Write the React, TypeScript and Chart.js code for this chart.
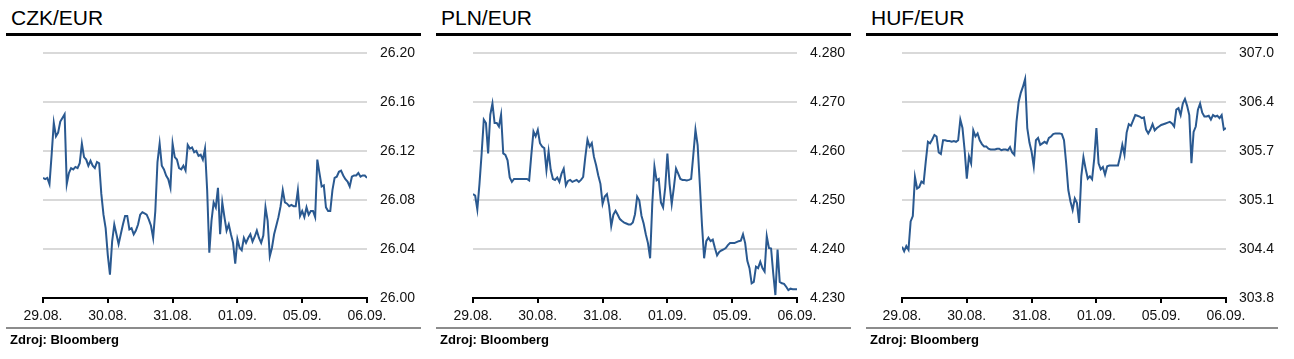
import { useEffect, useRef } from 'react';
import { Chart, registerables } from 'chart.js';

Chart.register(...registerables);

const dayLabels = ['29.08.', '30.08.', '31.08.', '01.09.', '05.09.', '06.09.'];
const samplesPerDay = 30;

const czkValues = [
  26.098, 26.097, 26.098, 26.093, 26.117, 26.143, 26.132, 26.135, 26.144, 26.147,
  26.150, 26.093, 26.102, 26.106, 26.105, 26.107, 26.106, 26.110, 26.126, 26.115,
  26.113, 26.108, 26.112, 26.108, 26.106, 26.111, 26.110, 26.085, 26.068, 26.057,
  26.035, 26.019, 26.046, 26.060, 26.052, 26.044, 26.052, 26.060, 26.067, 26.067,
  26.056, 26.057, 26.052, 26.055, 26.060, 26.068, 26.070, 26.069, 26.068, 26.064,
  26.059, 26.049, 26.071, 26.111, 26.126, 26.108, 26.105, 26.100, 26.097, 26.090,
  26.126, 26.115, 26.113, 26.106, 26.105, 26.108, 26.104, 26.125, 26.122, 26.123,
  26.119, 26.120, 26.116, 26.117, 26.113, 26.122, 26.088, 26.037, 26.063, 26.078,
  26.074, 26.090, 26.052, 26.078, 26.066, 26.055, 26.060, 26.052, 26.045, 26.028,
  26.048, 26.041, 26.039, 26.049, 26.045, 26.049, 26.052, 26.046, 26.050, 26.055,
  26.049, 26.045, 26.051, 26.074, 26.063, 26.034, 26.041, 26.052, 26.059, 26.066,
  26.075, 26.088, 26.078, 26.077, 26.075, 26.076, 26.075, 26.075, 26.088, 26.067,
  26.071, 26.066, 26.074, 26.068, 26.071, 26.071, 26.066, 26.113, 26.102, 26.091,
  26.092, 26.074, 26.071, 26.071, 26.088, 26.098, 26.099, 26.103, 26.104, 26.100,
  26.097, 26.095, 26.091, 26.099, 26.100, 26.100, 26.102, 26.099, 26.100, 26.100,
  26.098,
];

const plnValues = [
  4.2512, 4.2509, 4.2481, 4.2533, 4.2595, 4.2664, 4.2657, 4.2595, 4.2674, 4.2697,
  4.2657, 4.2657, 4.2650, 4.2674, 4.2595, 4.2592, 4.2581, 4.2546, 4.2537, 4.2543,
  4.2543, 4.2543, 4.2543, 4.2543, 4.2543, 4.2543, 4.2540, 4.2592, 4.2640, 4.2630,
  4.2643, 4.2616, 4.2609, 4.2606, 4.2561, 4.2599, 4.2561, 4.2543, 4.2541, 4.2546,
  4.2537, 4.2554, 4.2564, 4.2530, 4.2539, 4.2541, 4.2537, 4.2539, 4.2541, 4.2537,
  4.2541, 4.2547, 4.2588, 4.2623, 4.2609, 4.2616, 4.2588, 4.2571, 4.2550, 4.2533,
  4.2492, 4.2507, 4.2512, 4.2488, 4.2447, 4.2470, 4.2478, 4.2470, 4.2461, 4.2457,
  4.2454, 4.2452, 4.2450, 4.2450, 4.2454, 4.2471, 4.2507, 4.2499, 4.2468, 4.2452,
  4.2430, 4.2412, 4.2381, 4.2492, 4.2568, 4.2540, 4.2543, 4.2495, 4.2485, 4.2526,
  4.2595, 4.2533, 4.2492, 4.2526, 4.2564, 4.2554, 4.2543, 4.2541, 4.2541, 4.2540,
  4.2541, 4.2543, 4.2592, 4.2643, 4.2612, 4.2533, 4.2450, 4.2381, 4.2416, 4.2423,
  4.2416, 4.2419, 4.2402, 4.2387, 4.2394, 4.2397, 4.2399, 4.2402, 4.2408, 4.2412,
  4.2412, 4.2412, 4.2414, 4.2416, 4.2417, 4.2430, 4.2412, 4.2376, 4.2361, 4.2330,
  4.2333, 4.2364, 4.2361, 4.2374, 4.2361, 4.2354, 4.2426, 4.2402, 4.2401, 4.2350,
  4.2306, 4.2399, 4.2333, 4.2330, 4.2329, 4.2323, 4.2316, 4.2319, 4.2318, 4.2318,
  4.2318,
];

const hufValues = [
  304.47, 304.41, 304.48, 304.43, 304.80, 304.87, 305.38, 305.23, 305.25, 305.32,
  305.30, 305.58, 305.84, 305.82, 305.87, 305.93, 305.91, 305.70, 305.68, 305.86,
  305.86, 305.85, 305.85, 305.84, 305.85, 305.84, 305.86, 306.13, 306.02, 305.73,
  305.36, 305.65, 305.56, 305.99, 305.91, 305.95, 305.86, 305.81, 305.78, 305.78,
  305.75, 305.74, 305.74, 305.74, 305.75, 305.75, 305.73, 305.74, 305.74, 305.73,
  305.77, 305.70, 305.67, 306.10, 306.36, 306.48, 306.56, 306.66, 306.02, 305.83,
  305.71, 305.52, 305.86, 305.89, 305.80, 305.82, 305.84, 305.82, 305.89, 305.91,
  305.94, 305.95, 305.95, 305.95, 305.94, 305.86, 305.56, 305.21, 305.06, 304.95,
  305.10, 305.04, 304.78, 305.39, 305.64, 305.49, 305.36, 305.39, 305.35, 305.62,
  306.02, 305.56, 305.48, 305.51, 305.41, 305.52, 305.53, 305.53, 305.53, 305.53,
  305.53, 305.65, 305.80, 305.67, 305.96, 306.07, 306.05, 306.12, 306.19, 306.18,
  306.17, 306.15, 306.16, 306.00, 305.95, 306.00, 306.07, 305.99, 306.02, 306.04,
  306.06, 306.07, 306.08, 306.09, 306.10, 306.08, 306.04, 306.26, 306.28, 306.19,
  306.34, 306.40, 306.31, 306.19, 305.56, 305.97, 306.04, 306.26, 306.34, 306.22,
  306.17, 306.17, 306.18, 306.13, 306.19, 306.17, 306.18, 306.15, 306.19, 306.00,
  306.02,
];

const czkTicks = [26.0, 26.04, 26.08, 26.12, 26.16, 26.2];
const czkTickLabels = ['26.00', '26.04', '26.08', '26.12', '26.16', '26.20'];
const plnTicks = [4.23, 4.24, 4.25, 4.26, 4.27, 4.28];
const plnTickLabels = ['4.230', '4.240', '4.250', '4.260', '4.270', '4.280'];
const hufTicks = [303.8, 304.44, 305.08, 305.72, 306.36, 307.0];
const hufTickLabels = ['303.8', '304.4', '305.1', '305.7', '306.4', '307.0'];

const FONT = "'Liberation Sans', Arial, Helvetica, sans-serif";
const CANVAS_TOP = 40;
const CANVAS_H = 290;

type PanelProps = {
  left: number;
  width: number;
  plotLeft: number;
  plotRight: number;
  title: string;
  values: number[];
  ticks: number[];
  tickLabels: string[];
};

function Panel({ left, width, plotLeft, plotRight, title, values, ticks, tickLabels }: PanelProps) {
  const ref = useRef<HTMLCanvasElement | null>(null);

  useEffect(() => {
    if (!ref.current) return;
    const tickFont = { family: FONT, size: 14 };
    const yWidth = width - plotRight;
    const chart = new Chart(ref.current, {
      type: 'line',
      data: {
        datasets: [
          {
            data: values.map((v, i) => ({ x: i / samplesPerDay, y: v })),
            borderColor: '#2a5990',
            borderWidth: 2,
            pointRadius: 0,
            tension: 0,
            fill: false,
          },
        ],
      },
      options: {
        animation: false,
        responsive: false,
        maintainAspectRatio: false,
        events: [],
        layout: { padding: { left: plotLeft, top: 13, right: 0, bottom: 0 } },
        plugins: {
          legend: { display: false },
          tooltip: { enabled: false },
          title: { display: false },
        },
        scales: {
          x: {
            type: 'linear',
            position: 'bottom',
            min: 0,
            max: dayLabels.length - 1,
            afterBuildTicks: (s: any) => {
              s.ticks = dayLabels.map((_, i) => ({ value: i }));
            },
            afterFit: (s: any) => {
              s.height = 32;
              s.paddingLeft = 0;
              s.paddingRight = 0;
            },
            ticks: {
              callback: (v: any) => dayLabels[Math.round(Number(v))],
              font: tickFont,
              color: '#111',
              padding: 5,
              maxRotation: 0,
              autoSkip: false,
            },
            grid: {
              drawOnChartArea: false,
              drawTicks: true,
              tickLength: 5,
              color: '#000',
              lineWidth: 2,
            },
            border: { display: true, color: '#000', width: 2 },
          },
          y: {
            type: 'linear',
            position: 'right',
            min: ticks[0],
            max: ticks[ticks.length - 1],
            afterBuildTicks: (s: any) => {
              s.ticks = ticks.map((v) => ({ value: v }));
            },
            afterFit: (s: any) => {
              s.width = yWidth;
              s.paddingTop = 0;
              s.paddingBottom = 0;
            },
            ticks: {
              callback: (_v: any, i: number) => tickLabels[i],
              font: tickFont,
              color: '#111',
              padding: 13,
              crossAlign: 'near',
            },
            grid: { drawTicks: false, color: '#d9d9d9', lineWidth: 2 },
            border: { display: false },
          },
        },
      } as any,
    });
    return () => chart.destroy();
  }, [left, width, plotLeft, plotRight, values, ticks, tickLabels]);

  return (
    <div style={{ position: 'absolute', left, top: 0, width, height: 359 }}>
      <div
        style={{
          position: 'absolute',
          left: 5,
          top: 6,
          fontFamily: FONT,
          fontSize: 21,
          lineHeight: '24px',
          color: '#000',
          whiteSpace: 'nowrap',
        }}
      >
        {title}
      </div>
      <div style={{ position: 'absolute', left: 0, top: 33, width, height: 3, background: '#000' }} />
      <canvas
        ref={ref}
        width={width}
        height={CANVAS_H}
        style={{ position: 'absolute', left: 0, top: CANVAS_TOP, width, height: CANVAS_H, display: 'block' }}
      />
      <div style={{ position: 'absolute', left: 0, top: 327, width, height: 2, background: '#8c8c8c' }} />
      <div
        style={{
          position: 'absolute',
          left: 4,
          top: 332,
          fontFamily: FONT,
          fontSize: 13,
          fontWeight: 'bold',
          lineHeight: '15px',
          color: '#000',
          whiteSpace: 'nowrap',
        }}
      >
        Zdroj: Bloomberg
      </div>
    </div>
  );
}

export default function App() {
  return (
    <div style={{ position: 'absolute', left: 0, top: 0, width: 1294, height: 359, background: '#fff', overflow: 'hidden' }}>
      <Panel left={6} width={415} plotLeft={37} plotRight={361} title="CZK/EUR" values={czkValues} ticks={czkTicks} tickLabels={czkTickLabels} />
      <Panel left={436} width={415} plotLeft={37} plotRight={361} title="PLN/EUR" values={plnValues} ticks={plnTicks} tickLabels={plnTickLabels} />
      <Panel left={866} width={412} plotLeft={36} plotRight={360} title="HUF/EUR" values={hufValues} ticks={hufTicks} tickLabels={hufTickLabels} />
    </div>
  );
}
